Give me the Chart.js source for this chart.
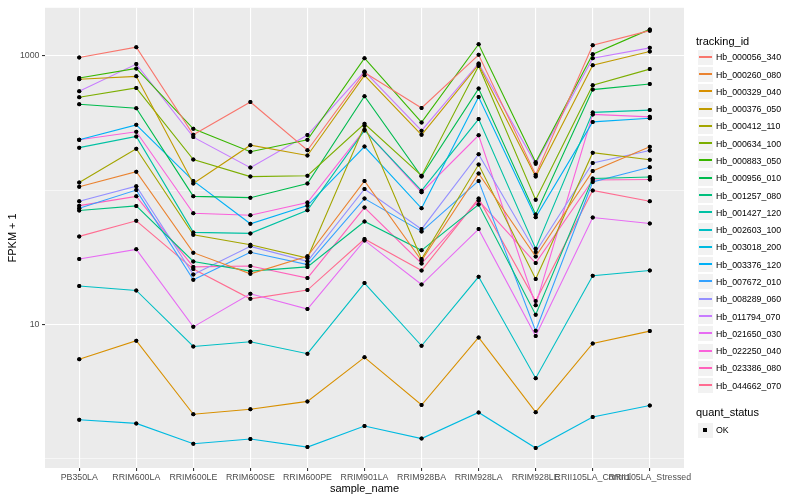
<!DOCTYPE html>
<html>
<head>
<meta charset="utf-8">
<script src="https://cdn.jsdelivr.net/npm/chart.js@4.4.1/dist/chart.umd.min.js"></script>
<style>
  html, body { margin: 0; padding: 0; background: #fff; }
  #wrap { position: relative; width: 800px; height: 500px; font-family: "Liberation Sans", Arial, sans-serif; }
  #legend { position: absolute; left: 0; top: 0; width: 800px; height: 500px; pointer-events: none; }
  .ttl { position: absolute; left: 696px; font-size: 11px; color: #000; white-space: nowrap; transform: translateY(-50%); }
  .key { position: absolute; left: 697px; width: 17px; height: 17px; background: #F2F2F2; border: 1px solid #fff; box-sizing: border-box; }
  .key .ln { position: absolute; left: 1px; width: 13px; top: 6px; height: 2px; }
  .key .pt { position: absolute; left: 5px; top: 5px; width: 4px; height: 4px; background: #000; }
  .lbl { position: absolute; left: 716px; font-size: 8.8px; color: #000; white-space: nowrap; transform: translateY(-50%); }
</style>
</head>
<body>
<div id="wrap">
  <canvas id="chart" width="800" height="500"></canvas>
  <div id="legend"></div>
</div>
<script>
document.addEventListener('DOMContentLoaded', () => {

  // --- Data (FPKM + 1) ---
  const sampleNames = ['PB350LA', 'RRIM600LA', 'RRIM600LE', 'RRIM600SE', 'RRIM600PE', 'RRIM901LA',
                       'RRIM928BA', 'RRIM928LA', 'RRIM928LE', 'RRII105LA_Control', 'RRII105LA_Stressed'];

  const hb_000056_340 = [970, 1160, 258, 453, 198, 752, 409, 1017, 130, 1198, 1539];
  const hb_000260_080 = [106, 137, 34.2, 23.8, 32.1, 117, 29.9, 133, 32.0, 139, 210];
  const hb_000329_040 = [5.49, 7.55, 2.14, 2.33, 2.67, 5.68, 2.51, 7.99, 2.22, 7.21, 8.91];
  const hb_000376_050 = [668, 703, 112, 216, 181, 715, 258, 858, 126, 852, 1076];
  const hb_000412_110 = [114, 203, 46.5, 39.2, 31.2, 301, 30.7, 155, 21.8, 190, 168];
  const hb_000634_100 = [491, 576, 169, 126, 128, 312, 128, 838, 84.9, 603, 796];
  const hb_000883_050 = [683, 805, 286, 193, 237, 960, 319, 1219, 161, 1027, 1573];
  const hb_000956_010 = [436, 407, 89.8, 87.8, 112, 500, 126, 570, 65.8, 560, 616];
  const hb_001257_080 = [70.4, 76.2, 29.4, 24.9, 26.8, 58.4, 35.6, 78, 11.8, 122, 125];
  const hb_001427_120 = [207, 251, 48.4, 47.6, 70.7, 278, 99, 338, 36.6, 379, 394];
  const hb_002603_100 = [19.3, 17.9, 6.85, 7.42, 6.05, 20.3, 6.93, 22.6, 3.97, 23.0, 25.2];
  const hb_003018_200 = [1.95, 1.83, 1.29, 1.40, 1.22, 1.75, 1.41, 2.21, 1.20, 2.04, 2.49];
  const hb_003376_120 = [237, 306, 117, 56.1, 76.6, 211, 73.2, 494, 62.8, 322, 343];
  const hb_007672_010 = [73.2, 100, 21.5, 34.4, 27.9, 86.4, 49.2, 117, 8.95, 115, 148];
  const hb_008289_060 = [82.5, 107, 23.5, 38.1, 29.5, 102, 51.2, 185, 34.6, 159, 197];
  const hb_011794_070 = [544, 867, 248, 147, 257, 765, 277, 877, 157, 960, 1146];
  const hb_021650_030 = [30.7, 36.2, 9.58, 16.9, 13.0, 42.2, 19.8, 51.2, 8.18, 62.5, 56.4];
  const hb_022250_040 = [237, 272, 67.2, 65.0, 80.7, 281, 96.2, 256, 13.9, 366, 351];
  const hb_023386_080 = [76.6, 89.8, 26.8, 27.2, 22.1, 74.1, 28.4, 83.5, 28.6, 119, 120];
  const hb_044662_070 = [45.2, 59.1, 25.8, 15.5, 18.0, 43.2, 25.2, 86.4, 14.9, 99.5, 82.5];

  const trackingIds = ['Hb_000056_340', 'Hb_000260_080', 'Hb_000329_040', 'Hb_000376_050', 'Hb_000412_110',
                       'Hb_000634_100', 'Hb_000883_050', 'Hb_000956_010', 'Hb_001257_080', 'Hb_001427_120',
                       'Hb_002603_100', 'Hb_003018_200', 'Hb_003376_120', 'Hb_007672_010', 'Hb_008289_060',
                       'Hb_011794_070', 'Hb_021650_030', 'Hb_022250_040', 'Hb_023386_080', 'Hb_044662_070'];
  const seriesValues = [hb_000056_340, hb_000260_080, hb_000329_040, hb_000376_050, hb_000412_110,
                        hb_000634_100, hb_000883_050, hb_000956_010, hb_001257_080, hb_001427_120,
                        hb_002603_100, hb_003018_200, hb_003376_120, hb_007672_010, hb_008289_060,
                        hb_011794_070, hb_021650_030, hb_022250_040, hb_023386_080, hb_044662_070];

  // ggplot default hue palette for 20 levels
  const lineColors = ['#F8766D', '#EA8331', '#D89000', '#C09B00', '#A3A500', '#7CAE00', '#39B600', '#00BB4E',
                      '#00BF7D', '#00C1A3', '#00BFC4', '#00BAE0', '#00B0F6', '#35A2FF', '#9590FF', '#C77CFF',
                      '#E76BF3', '#FA62DB', '#FF62BC', '#FF6C91'];

  const yBreaks = [1, 10, 100, 1000];
  const yLabelled = [10, 1000];

  const FONT = '"Liberation Sans", Arial, sans-serif';

  // --- Plugins ---
  const panelBg = {
    id: 'panelBg',
    beforeDraw(chart) {
      const { ctx, chartArea: a } = chart;
      ctx.save();
      ctx.fillStyle = '#EBEBEB';
      ctx.fillRect(a.left, a.top, a.right - a.left, a.bottom - a.top);
      ctx.restore();
    }
  };

  // points sit above every line, like geom_point after geom_line
  const pointsOnTop = {
    id: 'pointsOnTop',
    afterDatasetsDraw(chart) {
      const ctx = chart.ctx;
      chart.getSortedVisibleDatasetMetas().forEach(meta => {
        meta.data.forEach(pt => pt.draw(ctx, chart.chartArea));
      });
    }
  };

  const datasets = seriesValues.map((vals, i) => ({
    label: trackingIds[i],
    data: vals.map((v, j) => ({ x: j, y: v })),
    borderColor: lineColors[i],
    backgroundColor: '#000',
    borderWidth: 1.1,
    pointRadius: 2,
    pointBorderWidth: 0,
    pointBackgroundColor: '#000',
    tension: 0,
    fill: false
  }));

  new Chart(document.getElementById('chart'), {
    type: 'line',
    data: { datasets },
    plugins: [panelBg, pointsOnTop],
    options: {
      responsive: false,
      animation: false,
      devicePixelRatio: 1,
      layout: { padding: { left: 0, right: 116, top: 5, bottom: 0 } },
      plugins: { legend: { display: false }, tooltip: { enabled: false } },
      scales: {
        x: {
          type: 'linear',
          min: -0.6,
          max: 10.6,
          afterBuildTicks: scale => { scale.ticks = sampleNames.map((_, i) => ({ value: i })); },
          afterFit: scale => { scale.height = 32; },
          ticks: {
            autoSkip: false,
            maxRotation: 0,
            minRotation: 0,
            padding: 1,
            color: '#4D4D4D',
            font: { family: FONT, size: 8.8 },
            callback: v => sampleNames[v]
          },
          grid: { color: '#FFFFFF', lineWidth: 1.1, tickColor: '#333333', tickLength: 3, tickWidth: 1.1 },
          border: { display: false },
          title: { display: true, text: 'sample_name', color: '#000', font: { family: FONT, size: 11 }, padding: { top: 0, bottom: 4.4 } }
        },
        y: {
          type: 'logarithmic',
          min: 0.852,
          max: 2278,
          afterBuildTicks: scale => { scale.ticks = yBreaks.map(v => ({ value: v })); },
          afterFit: scale => { scale.width = 45; },
          ticks: {
            padding: 2.5,
            color: '#4D4D4D',
            font: { family: FONT, size: 8.8 },
            callback: v => yLabelled.includes(v) ? String(v) : ''
          },
          grid: {
            color: '#FFFFFF',
            lineWidth: ctx => yLabelled.includes(ctx.tick && ctx.tick.value) ? 1.1 : 0.55,
            tickColor: ctx => yLabelled.includes(ctx.tick && ctx.tick.value) ? '#333333' : 'rgba(0,0,0,0)',
            tickLength: 3,
            tickWidth: 1.1
          },
          border: { display: false },
          title: { display: true, text: 'FPKM + 1', color: '#000', font: { family: FONT, size: 11 }, padding: { top: 6, bottom: 0 } }
        }
      }
    }
  });

  // --- Legend (ggplot style) ---
  const legend = document.getElementById('legend');
  const add = (cls, top, text) => {
    const d = document.createElement('div');
    d.className = cls;
    d.style.top = top + 'px';
    if (text !== undefined) d.textContent = text;
    legend.appendChild(d);
    return d;
  };

  add('ttl', 40.7, 'tracking_id');
  trackingIds.forEach((id, i) => {
    const cy = 57.3 + i * 17.28;
    const key = add('key', Math.round(cy - 8.5));
    const ln = document.createElement('div');
    ln.className = 'ln';
    ln.style.background = lineColors[i];
    key.appendChild(ln);
    add('lbl', cy, id);
  });

  add('ttl', 411.7, 'quant_status');
  const okKey = add('key', Math.round(430 - 8.5));
  const pt = document.createElement('div');
  pt.className = 'pt';
  okKey.appendChild(pt);
  add('lbl', 430, 'OK');
});
</script>
</body>
</html>
